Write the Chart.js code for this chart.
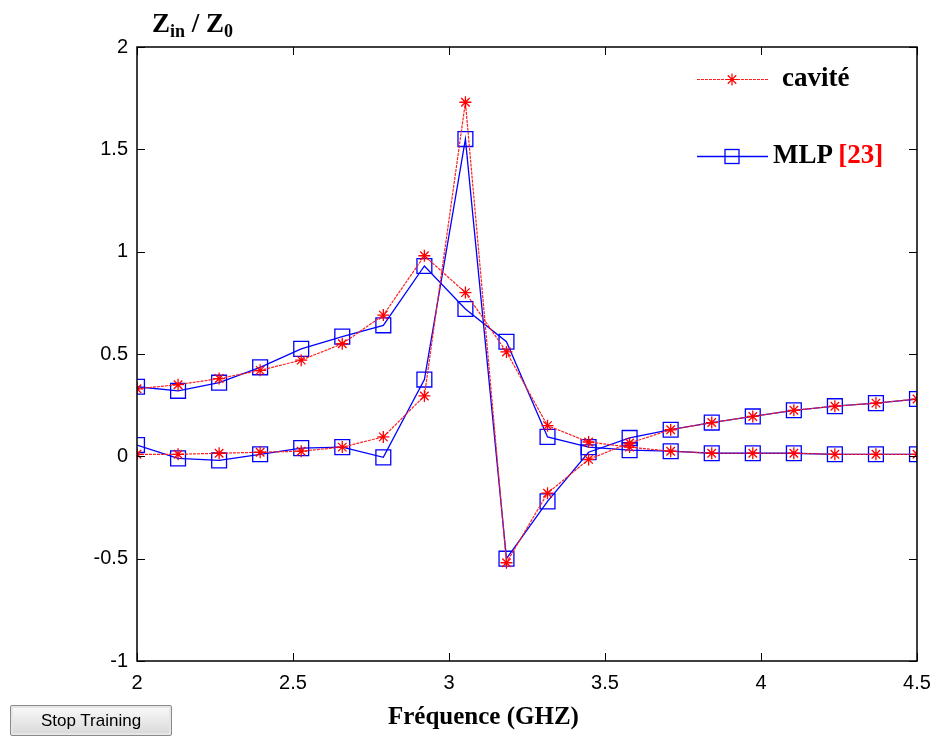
<!DOCTYPE html>
<html>
<head>
<meta charset="utf-8">
<script src="https://cdn.jsdelivr.net/npm/chart.js@4"></script>
<style>
  html, body { margin: 0; padding: 0; background: #fff; }
  #wrap { position: relative; width: 938px; height: 737px; }
  #graf { position: absolute; left: 0; top: 0; }
  .serif { font-family: "Liberation Serif", "Times New Roman", serif; font-weight: bold; color: #000; position: absolute; white-space: nowrap; }
  #titulo { left: 152px; top: 8px; font-size: 27px; }
  #titulo sub { font-size: 18px; vertical-align: -5px; }
  #xtitulo { left: 388px; top: 702px; font-size: 25px; }
  #leg1 { left: 782px; top: 62px; font-size: 27px; }
  #leg2 { left: 773px; top: 139px; font-size: 27px; }
  #leg2 span { color: #ff0000; }
  #stop { position: absolute; left: 10px; top: 705px; width: 162px; height: 31px;
    font-family: "Liberation Sans", Arial, sans-serif; font-size: 17px; color: #000;
    background: linear-gradient(#fafafa, #d8d8d8); border: 1px solid #8a8a8a;
    box-shadow: inset 0 0 0 2px #e6e6e6; border-radius: 2px; padding: 0; }
</style>
</head>
<body>
<div id="wrap">
  <canvas id="graf" width="938" height="737"></canvas>
  <div id="titulo" class="serif">Z<sub>in</sub> / Z<sub>0</sub></div>
  <div id="leg1" class="serif">cavité</div>
  <div id="leg2" class="serif">MLP <span>[23]</span></div>
  <div id="xtitulo" class="serif">Fréquence (GHZ)</div>
  <button id="stop">Stop Training</button>
</div>
<script>
// frequences (GHz)
const freq = [2, 2.1316, 2.2632, 2.3947, 2.5263, 2.6579, 2.7895, 2.9211, 3.0526, 3.1842,
  3.3158, 3.4474, 3.5789, 3.7105, 3.8421, 3.9737, 4.1053, 4.2368, 4.3684, 4.5];

const cavite1 = [0.33, 0.35, 0.38, 0.42, 0.47, 0.55, 0.69, 0.98, 0.80, 0.51,
  0.15, 0.07, 0.045, 0.025, 0.015, 0.015, 0.015, 0.01, 0.01, 0.01];
const cavite2 = [0.01, 0.01, 0.015, 0.02, 0.025, 0.045, 0.095, 0.295, 1.73, -0.52,
  -0.18, -0.015, 0.065, 0.13, 0.165, 0.195, 0.225, 0.245, 0.26, 0.28];
const mlp1 = [0.34, 0.32, 0.36, 0.435, 0.525, 0.585, 0.64, 0.93, 0.72, 0.56,
  0.095, 0.045, 0.03, 0.025, 0.015, 0.015, 0.015, 0.01, 0.01, 0.01];
const mlp2 = [0.055, -0.01, -0.02, 0.01, 0.04, 0.045, -0.005, 0.375, 1.55, -0.50,
  -0.22, 0.02, 0.09, 0.13, 0.165, 0.195, 0.225, 0.245, 0.26, 0.28];

const xTicks = [2, 2.5, 3, 3.5, 4, 4.5];
const yTicks = [-1, -0.5, 0, 0.5, 1, 1.5, 2];

function pontos(ys) {
  return ys.map((y, i) => ({ x: freq[i], y: y }));
}

function serieCavite(ys) {
  return {
    data: pontos(ys),
    borderColor: "#ff2020",
    borderWidth: 1.2,
    borderDash: [3, 1],
    pointStyle: "star",
    pointRadius: 6,
    pointBorderColor: "#ff0000",
    pointBorderWidth: 1.3,
    backgroundColor: "#ff0000",
    tension: 0
  };
}

function serieMlp(ys) {
  return {
    data: pontos(ys),
    borderColor: "#0000ff",
    borderWidth: 1.3,
    pointStyle: "rect",
    pointRadius: 10.5,
    pointBorderColor: "#0000ff",
    pointBorderWidth: 1.3,
    pointBackgroundColor: "rgba(0,0,0,0)",
    backgroundColor: "rgba(0,0,0,0)",
    tension: 0
  };
}

// moldura com ticks para dentro + amostras da legenda
const moldura = {
  id: "moldura",
  afterDraw(chart) {
    const ctx = chart.ctx;
    const a = chart.chartArea;
    const sx = chart.scales.x, sy = chart.scales.y;
    ctx.save();
    ctx.strokeStyle = "#000";
    ctx.lineWidth = 1.5;
    ctx.strokeRect(a.left, a.top, a.right - a.left, a.bottom - a.top);
    ctx.lineWidth = 1;
    const t = 8;
    ctx.beginPath();
    xTicks.forEach(v => {
      const px = Math.round(sx.getPixelForValue(v)) + 0.5;
      ctx.moveTo(px, a.bottom); ctx.lineTo(px, a.bottom - t);
      ctx.moveTo(px, a.top); ctx.lineTo(px, a.top + t);
    });
    yTicks.forEach(v => {
      const py = Math.round(sy.getPixelForValue(v)) + 0.5;
      ctx.moveTo(a.left, py); ctx.lineTo(a.left + t, py);
      ctx.moveTo(a.right, py); ctx.lineTo(a.right - t, py);
    });
    ctx.stroke();

    // legenda
    ctx.strokeStyle = "#ff2020";
    ctx.lineWidth = 1.2;
    ctx.setLineDash([3, 1]);
    ctx.beginPath();
    ctx.moveTo(697, 79.5); ctx.lineTo(768, 79.5);
    ctx.stroke();
    ctx.setLineDash([]);
    ctx.strokeStyle = "#ff0000";
    Chart.helpers.drawPoint(ctx, { pointStyle: "star", radius: 6, borderWidth: 1.3 }, 732, 79.5);
    ctx.strokeStyle = "#0000ff";
    ctx.lineWidth = 1.3;
    ctx.beginPath();
    ctx.moveTo(697, 156.5); ctx.lineTo(768, 156.5);
    ctx.stroke();
    ctx.strokeRect(725, 149.5, 14, 14);
    ctx.restore();
  }
};

const grafico = new Chart(document.getElementById("graf"), {
  type: "line",
  data: {
    datasets: [serieCavite(cavite1), serieCavite(cavite2), serieMlp(mlp1), serieMlp(mlp2)]
  },
  options: {
    responsive: false,
    animation: false,
    layout: { padding: { top: 47, right: 21, left: 0, bottom: 0 } },
    plugins: { legend: { display: false }, tooltip: { enabled: false } },
    scales: {
      x: {
        type: "linear",
        min: 2,
        max: 4.5,
        grid: { display: false, drawTicks: false },
        border: { display: false },
        afterBuildTicks: s => { s.ticks = xTicks.map(v => ({ value: v })); },
        afterFit: s => { s.height = 76; s.paddingRight = 0; s.paddingLeft = 0; },
        ticks: {
          padding: 10,
          color: "#000",
          font: { family: "'Liberation Sans', Arial, sans-serif", size: 20 },
          callback: v => String(v)
        }
      },
      y: {
        min: -1,
        max: 2,
        grid: { display: false, drawTicks: false },
        border: { display: false },
        afterBuildTicks: s => { s.ticks = yTicks.map(v => ({ value: v })); },
        afterFit: s => { s.width = 137; s.paddingTop = 0; s.paddingBottom = 0; },
        ticks: {
          padding: 9,
          color: "#000",
          font: { family: "'Liberation Sans', Arial, sans-serif", size: 20 },
          callback: v => String(v)
        }
      }
    }
  },
  plugins: [moldura]
});
</script>
</body>
</html>
